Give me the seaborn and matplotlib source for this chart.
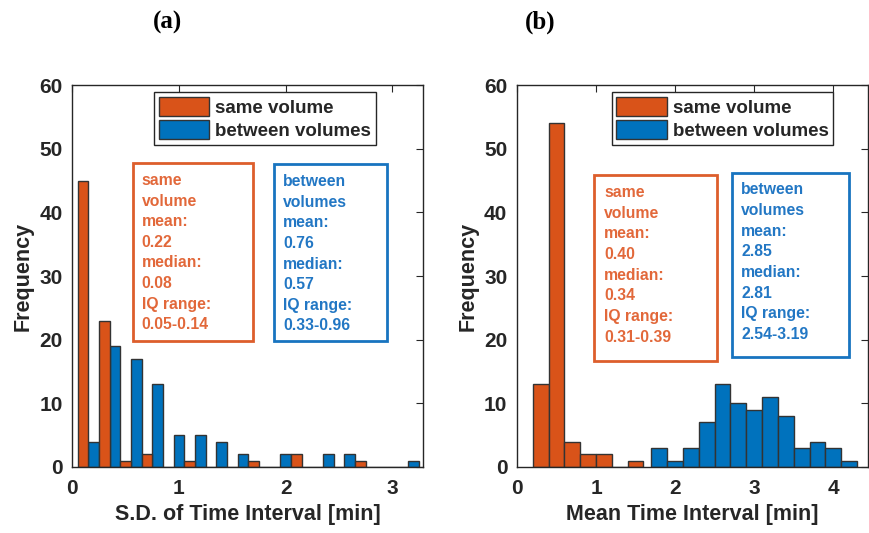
import numpy as np
import pandas as pd
import matplotlib
matplotlib.use("Agg")
import matplotlib.pyplot as plt
from matplotlib.patches import Patch, Rectangle
import seaborn as sns

# ---- data ----
# (a) S.D. of time interval, grouped bars (bin edges 0.05 + 0.2k)
sd_edges = [0.05, 0.25, 0.45, 0.65, 0.85, 1.05, 1.25, 1.45, 1.65, 1.85,
            2.05, 2.25, 2.45, 2.65, 2.85, 3.05, 3.25]
sd_centers = [0.15, 0.35, 0.55, 0.75, 0.95, 1.15, 1.35, 1.55, 1.75, 1.95,
              2.15, 2.35, 2.55, 2.75, 2.95, 3.15]
sd_same = [45, 23, 1, 2, 0, 1, 0, 0, 1, 0, 2, 0, 0, 1, 0, 0]
sd_between = [4, 19, 17, 13, 5, 5, 4, 2, 0, 2, 0, 2, 2, 0, 0, 1]

# (b) mean time interval
mean_same_edges = [0.2, 0.4, 0.6, 0.8, 1.0, 1.2, 1.4, 1.6]
mean_same = [13, 54, 4, 2, 2, 0, 1]
mean_between_edges = [1.7, 1.9, 2.1, 2.3, 2.5, 2.7, 2.9, 3.1, 3.3, 3.5, 3.7, 3.9, 4.1, 4.3]
mean_between = [3, 1, 3, 7, 13, 10, 9, 11, 8, 3, 4, 3, 1]

groups = ["same volume", "between volumes"]
stats_a = ["same\nvolume\nmean:\n0.22\nmedian:\n0.08\nIQ range:\n0.05-0.14",
           "between\nvolumes\nmean:\n0.76\nmedian:\n0.57\nIQ range:\n0.33-0.96"]
stats_b = ["same\nvolume\nmean:\n0.40\nmedian:\n0.34\nIQ range:\n0.31-0.39",
           "between\nvolumes\nmean:\n2.85\nmedian:\n2.81\nIQ range:\n2.54-3.19"]

orange = "#D95319"
blue = "#0072BD"
txt_colors = ["#E2683A", "#2277C4"]
box_colors = ["#DD5E2C", "#1874C0"]
dark = "#262626"

sns.set_style("white")
plt.rcParams["font.family"] = ["Liberation Sans", "DejaVu Sans"]
plt.rcParams["font.weight"] = "bold"

fig = plt.figure(figsize=(8.69, 5.33), dpi=100)
W, H = 869, 533
ax1 = fig.add_axes([72.3 / W, (H - 467) / H, 351 / W, 382 / H])
ax2 = fig.add_axes([517 / W, (H - 467) / H, 351 / W, 382 / H])

# panel (a): dodge histogram from the bin counts
df_a = pd.DataFrame({
    "x": sd_centers + sd_centers,
    "count": sd_same + sd_between,
    "group": [groups[0]] * len(sd_same) + [groups[1]] * len(sd_between),
})
df_a = df_a[df_a["count"] > 0]
sns.histplot(data=df_a, x="x", weights="count", hue="group", hue_order=groups,
             bins=sd_edges, multiple="dodge", shrink=1, palette=[orange, blue],
             alpha=1, edgecolor="#333333", linewidth=1, legend=False, ax=ax1)

# panel (b): two separate histograms
mid_same = [(a + b) / 2 for a, b in zip(mean_same_edges[:-1], mean_same_edges[1:])]
mid_between = [(a + b) / 2 for a, b in zip(mean_between_edges[:-1], mean_between_edges[1:])]
sns.histplot(x=mid_same, weights=mean_same, bins=mean_same_edges, color=orange,
             alpha=1, edgecolor="#333333", linewidth=1, ax=ax2)
sns.histplot(x=mid_between, weights=mean_between, bins=mean_between_edges, color=blue,
             alpha=1, edgecolor="#333333", linewidth=1, ax=ax2)

panels = [
    (ax1, 3.29, [0, 1, 2, 3], "S.D. of Time Interval [min]", "(a)", 168, stats_a,
     [(0.174, 0.331, 0.340, 0.466), (0.575, 0.331, 0.322, 0.462)],
     [(0.198, 0.770), (0.601, 0.767)], 0.233),
    (ax2, 4.44, [0, 1, 2, 3, 4], "Mean Time Interval [min]", "(b)", 540, stats_b,
     [(0.220, 0.278, 0.351, 0.486), (0.613, 0.287, 0.333, 0.483)],
     [(0.248, 0.738), (0.639, 0.745)], 0.27),
]

for ax, xmax, xt, xlabel, title, title_x, stats, boxes, tpos, legx in panels:
    ax.set_xlim(0, xmax)
    ax.set_ylim(0, 60)
    ax.set_xticks(xt)
    ax.set_yticks([0, 10, 20, 30, 40, 50, 60])
    ax.tick_params(direction="in", length=5, width=0.8, color=dark, labelcolor=dark,
                   labelsize=15, top=True, right=True)
    ax.tick_params(axis="x", pad=9)
    ax.tick_params(axis="y", pad=7)
    for lab in ax.get_xticklabels() + ax.get_yticklabels():
        lab.set_fontweight("bold")
    for sp in ax.spines.values():
        sp.set_color(dark)
        sp.set_linewidth(1)
    ax.set_xlabel(xlabel, fontsize=15.5, fontweight="bold", color=dark, labelpad=4)
    ax.set_ylabel("Frequency", fontsize=15.5, fontweight="bold", color=dark, labelpad=4)
    # panel letters sit left of the axes centre in the original
    fig.text(title_x / W, 1 - 22 / H, title, fontsize=18, fontweight="bold",
             family="Liberation Serif", color="black", ha="center", va="center")

    handles = [Patch(facecolor=orange, edgecolor="#333333", linewidth=1),
               Patch(facecolor=blue, edgecolor="#333333", linewidth=1)]
    leg = ax.legend(handles, groups, loc="upper left", bbox_to_anchor=(legx, 0.982),
                    borderaxespad=0, fancybox=False, framealpha=1, edgecolor=dark,
                    prop={"size": 13.5, "weight": "bold"}, handlelength=2.7,
                    handleheight=1.2, handletextpad=0.3, borderpad=0.25,
                    labelspacing=0.2)
    leg.get_frame().set_linewidth(1)

    for i in range(2):
        x0, y0, w, h = boxes[i]
        ax.add_patch(Rectangle((x0, y0), w, h, transform=ax.transAxes, fill=False,
                               edgecolor=box_colors[i], linewidth=2, zorder=5))
        ax.text(tpos[i][0], tpos[i][1], stats[i], transform=ax.transAxes,
                ha="left", va="top", color=txt_colors[i], fontsize=11.3,
                fontweight="bold", linespacing=1.47, zorder=6)

fig.savefig("out.png", dpi=100)
